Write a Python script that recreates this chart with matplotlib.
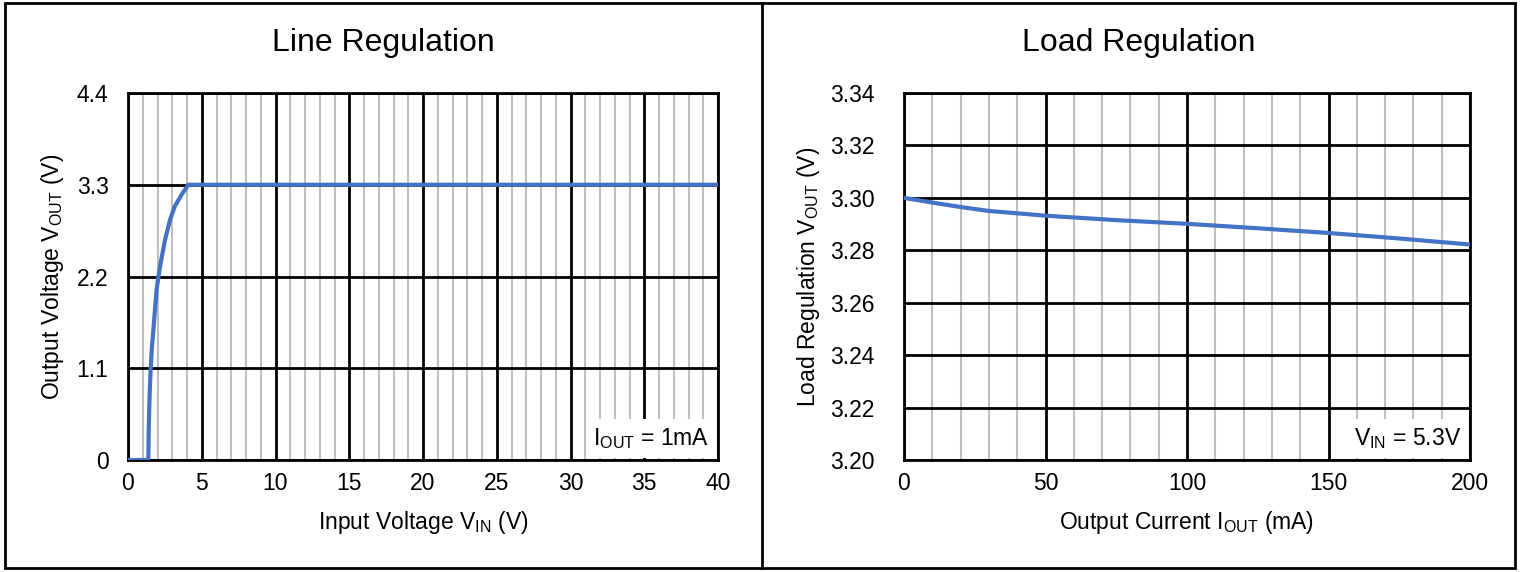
import matplotlib
matplotlib.use("Agg")
import matplotlib.pyplot as plt
from matplotlib.patches import Rectangle
from matplotlib.lines import Line2D
import numpy as np

plt.rcParams['font.family'] = ['Liberation Sans', 'DejaVu Sans']
plt.rcParams['mathtext.fontset'] = 'custom'
plt.rcParams['mathtext.rm'] = 'Liberation Sans'

# Line regulation data
vin = [0, 1.38, 1.40, 1.43, 1.48, 1.54, 1.62, 1.72, 1.94, 2.17, 2.51, 2.85, 3.17, 3.63, 4.09, 40]
vout = [0, 0, 0.30, 0.56, 0.85, 1.10, 1.35, 1.56, 2.05, 2.32, 2.64, 2.88, 3.04, 3.18, 3.30, 3.30]
line_xticks = [0, 5, 10, 15, 20, 25, 30, 35, 40]
line_yticks = [0, 1.1, 2.2, 3.3, 4.4]
line_ytick_labels = ['0', '1.1', '2.2', '3.3', '4.4']

# Load regulation data
iout = [0, 10, 20, 30, 50, 75, 100, 125, 150, 175, 200]
vload = [3.300, 3.2982, 3.2965, 3.2950, 3.2932, 3.2915, 3.2901, 3.2884, 3.2866, 3.2845, 3.2822]
load_xticks = [0, 50, 100, 150, 200]
load_yticks = [3.20, 3.22, 3.24, 3.26, 3.28, 3.30, 3.32, 3.34]

W, H = 1521, 572
fig = plt.figure(figsize=(W / 100, H / 100), dpi=100)

blue = '#4472C4'
FS = 16.5

def px_rect(x0, y0, x1, y1):
    return [x0 / W, 1 - y1 / H, (x1 - x0) / W, (y1 - y0) / H]

ax1 = fig.add_axes(px_rect(128, 93, 718, 460))
ax2 = fig.add_axes(px_rect(904, 93, 1470, 460))

def style(ax, xlim, ylim, xmaj, xmin_step, ymaj, ypad):
    ax.set_xlim(*xlim)
    ax.set_ylim(*ylim)
    ax.set_xticks(xmaj)
    ax.set_xticks(np.arange(xlim[0], xlim[1] + 1e-9, xmin_step), minor=True)
    ax.set_yticks(ymaj)
    ax.grid(which='minor', axis='x', color='#BFBFBF', lw=1.5, zorder=0)
    ax.grid(which='major', axis='both', color='black', lw=2, zorder=1)
    ax.set_axisbelow(True)
    for s in ax.spines.values():
        s.set_color('black')
        s.set_linewidth(2)
    ax.tick_params(which='both', length=0, labelsize=FS)
    ax.tick_params(axis='x', pad=9)
    ax.tick_params(axis='y', pad=ypad)

def place_labels(ax, ax_x0, ax_w, ylabel_px_x):
    ax.xaxis.set_label_coords(0.5, (460 - 522) / 367)
    ax.xaxis.label.set_va('center')
    ax.yaxis.set_label_coords((ylabel_px_x - ax_x0) / ax_w, 0.5)
    ax.yaxis.label.set_va('center')

style(ax1, (0, 40), (0, 4.4), line_xticks, 1, line_yticks, 14)
ax1.set_yticklabels(line_ytick_labels)
ax1.plot(vin, vout, color=blue, lw=3, zorder=3, solid_joinstyle='round')
ax1.set_xlabel(r'Input Voltage V$_{\mathregular{IN}}$ (V)', fontsize=FS)
ax1.set_ylabel(r'Output Voltage V$_{\mathregular{OUT}}$ (V)', fontsize=FS)
place_labels(ax1, 128, 590, 53)
ax1.text(0.985, 0.025, r'I$_{\mathregular{OUT}}$ = 1mA', transform=ax1.transAxes,
         ha='right', va='bottom', fontsize=FS, zorder=4,
         bbox=dict(facecolor='white', edgecolor='none', pad=5))

style(ax2, (0, 200), (3.20, 3.34), load_xticks, 10, load_yticks, 21)
ax2.set_yticklabels([f'{v:.2f}' for v in load_yticks])
ax2.plot(iout, vload, color=blue, lw=3, zorder=3)
ax2.set_xlabel(r'Output Current I$_{\mathregular{OUT}}$ (mA)', fontsize=FS)
ax2.set_ylabel(r'Load Regulation V$_{\mathregular{OUT}}$ (V)', fontsize=FS)
place_labels(ax2, 904, 566, 809)
ax2.text(0.985, 0.025, r'V$_{\mathregular{IN}}$ = 5.3V', transform=ax2.transAxes,
         ha='right', va='bottom', fontsize=FS, zorder=4,
         bbox=dict(facecolor='white', edgecolor='none', pad=5))

fig.text(383.5 / W, 1 - 43 / H, 'Line Regulation', ha='center', va='center', fontsize=23)
fig.text(1138.5 / W, 1 - 43 / H, 'Load Regulation', ha='center', va='center', fontsize=23)

# outer frames
fig.add_artist(Rectangle((5 / W, 1 - 568 / H), 1510 / W, 565 / H, transform=fig.transFigure,
                         fill=False, edgecolor='black', lw=2))
fig.add_artist(Line2D([762 / W, 762 / W], [1 - 568 / H, 1 - 3 / H], transform=fig.transFigure,
                      color='black', lw=2))

fig.savefig('out.png', dpi=100)
